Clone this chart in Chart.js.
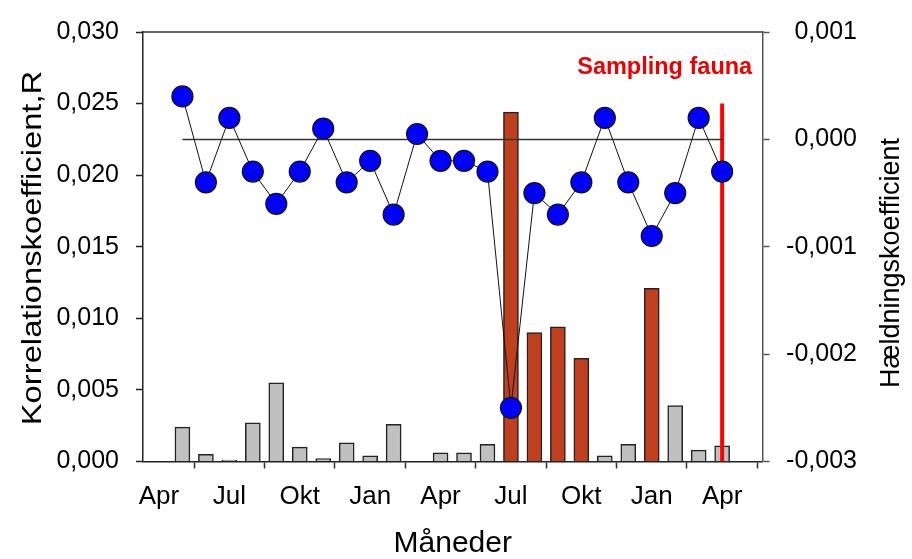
<!DOCTYPE html>
<html lang="da">
<head>
<meta charset="utf-8">
<title>Korrelations- og hældningskoefficient</title>
<script src="https://cdn.jsdelivr.net/npm/chart.js@4.4.1/dist/chart.umd.min.js"></script>
<style>
  html, body { margin: 0; padding: 0; background: #fff; }
  #wrap { position: relative; width: 912px; height: 559px; }
</style>
</head>
<body>
<div id="wrap"><canvas id="graf"></canvas></div>
<script>
// Måned 0 = første april, 24 = april to år senere
const maaneder = [1, 2, 3, 4, 5, 6, 7, 8, 9, 10, 11, 12, 13, 14, 15, 16, 17, 18, 19, 20, 21, 22, 23, 24];
const tickMaaneder = [0, 3, 6, 9, 12, 15, 18, 21, 24];
const tickNavne = ['Apr', 'Jul', 'Okt', 'Jan', 'Apr', 'Jul', 'Okt', 'Jan', 'Apr'];

// Korrelationskoefficient R – grå søjler og de fremhævede (røde) måneder
const korrelationGraa = [0.0024, 0.0005, 0.0001, 0.0027, 0.0055, 0.0010, 0.0002, 0.0013, 0.0004, 0.0026, null, 0.0006,
                         0.0006, 0.0012, null, null, null, null, 0.0004, 0.0012, null, 0.0039, 0.0008, 0.0011];
const korrelationRoed = [null, null, null, null, null, null, null, null, null, null, null, null,
                         null, null, 0.0244, 0.0090, 0.0094, 0.0072, null, null, 0.0121, null, null, null];

// Hældningskoefficient pr. måned
const haeldning = [0.0004, -0.0004, 0.0002, -0.0003, -0.0006, -0.0003, 0.0001, -0.0004, -0.0002, -0.0007, 0.00005, -0.0002,
                   -0.0002, -0.0003, -0.0025, -0.0005, -0.0007, -0.0004, 0.0002, -0.0004, -0.0009, -0.0005, 0.0002, -0.0003];

const venstreTicks = [0, 0.005, 0.010, 0.015, 0.020, 0.025, 0.030];
const hoejreTicks = [-0.003, -0.002, -0.001, 0, 0.001];

// Tidspunkt for faunaprøvetagning
const samplingMaaned = 24;
const samplingTop = 0.025;
const samplingTekst = 'Sampling fauna';

const FONT = 'Arial, "Liberation Sans", sans-serif';

const komma = v => Number(v).toFixed(3).replace('.', ',');
const punkter = (xs, ys) => xs.map((x, i) => ({ x: x, y: ys[i] }));

// Lodret tekst der læses nedefra og op; stræk > 1 trækker teksten ud i længden
function lodretTekst(ctx, tekst, x, y, str, straek) {
  ctx.save();
  ctx.fillStyle = '#000';
  ctx.font = str + 'px ' + FONT;
  ctx.textAlign = 'center';
  ctx.textBaseline = 'alphabetic';
  ctx.translate(x, y);
  ctx.rotate(-Math.PI / 2);
  ctx.scale(straek, 1);
  ctx.fillText(tekst, 0, 0);
  ctx.restore();
}

// Ramme foroven, aksetitler i siderne og tekst ved prøvetagningslinjen
const ekstraTegning = {
  id: 'ekstraTegning',
  beforeDatasetsDraw(chart) {
    const { ctx, chartArea } = chart;
    ctx.save();
    ctx.strokeStyle = '#333';
    ctx.lineWidth = 1.5;
    ctx.beginPath();
    ctx.moveTo(chartArea.left, chartArea.top);
    ctx.lineTo(chartArea.right, chartArea.top);
    ctx.stroke();
    ctx.restore();
  },
  afterDraw(chart) {
    const { ctx, scales } = chart;
    lodretTekst(ctx, 'Korrelationskoefficient,R', 41, 248, 28, 1.17);
    lodretTekst(ctx, 'Hældningskoefficient', 899, 263, 27, 1);

    ctx.save();
    ctx.fillStyle = '#ee0000';
    ctx.font = 'bold 23.5px ' + FONT;
    ctx.textAlign = 'right';
    ctx.textBaseline = 'alphabetic';
    ctx.fillText(samplingTekst, scales.x.getPixelForValue(25.28), scales.y.getPixelForValue(0.0271));
    ctx.restore();
  }
};

new Chart(document.getElementById('graf'), {
  type: 'bar',
  data: {
    datasets: [
      {
        type: 'line',
        label: 'Hældning',
        data: punkter(maaneder, haeldning),
        yAxisID: 'y1',
        borderColor: '#111',
        borderWidth: 1,
        pointRadius: 10.5,
        pointBackgroundColor: '#0000ff',
        pointBorderColor: '#111',
        pointBorderWidth: 1.2,
        tension: 0,
        clip: false,
        order: 0
      },
      {
        type: 'line',
        label: 'Nul',
        data: [{ x: maaneder[0], y: 0 }, { x: maaneder[maaneder.length - 1], y: 0 }],
        yAxisID: 'y1',
        borderColor: '#333',
        borderWidth: 1.5,
        pointRadius: 0,
        order: 1
      },
      {
        type: 'line',
        label: samplingTekst,
        data: [{ x: samplingMaaned, y: 0 }, { x: samplingMaaned, y: samplingTop }],
        yAxisID: 'y',
        borderColor: '#ff0000',
        borderWidth: 4,
        pointRadius: 0,
        order: 2
      },
      {
        label: 'R',
        data: punkter(maaneder, korrelationRoed),
        yAxisID: 'y',
        backgroundColor: '#bf3f1e',
        borderColor: '#222',
        borderWidth: 1.5,
        barThickness: 15,
        grouped: false,
        order: 3
      },
      {
        label: 'R',
        data: punkter(maaneder, korrelationGraa),
        yAxisID: 'y',
        backgroundColor: '#c0c0c0',
        borderColor: '#222',
        borderWidth: 1.5,
        barThickness: 15,
        grouped: false,
        order: 4
      }
    ]
  },
  options: {
    responsive: true,
    maintainAspectRatio: false,
    animation: false,
    events: [],
    layout: { padding: { top: 27, right: 55, left: 0, bottom: 0 } },
    plugins: { legend: { display: false }, tooltip: { enabled: false } },
    scales: {
      x: {
        type: 'linear',
        position: 'bottom',
        min: -0.68,
        max: 25.72,
        offset: false,
        afterBuildTicks: s => { s.ticks = tickMaaneder.map(v => ({ value: v })); },
        afterFit: s => { s.height = 97.5; },
        ticks: {
          callback: (v, i) => tickNavne[i],
          autoSkip: false,
          maxRotation: 0,
          font: { family: FONT, size: 26 },
          color: '#000',
          padding: 13
        },
        grid: { drawOnChartArea: false, drawTicks: true, tickLength: 7, tickColor: '#333', tickWidth: 1.5 },
        border: { color: '#222', width: 1.5 },
        title: {
          display: true,
          text: 'Måneder',
          font: { family: FONT, size: 30, lineHeight: 1 },
          color: '#000',
          padding: { top: 0, bottom: 0 }
        }
      },
      y: {
        position: 'left',
        min: 0,
        max: 0.03,
        afterBuildTicks: s => { s.ticks = venstreTicks.map(v => ({ value: v })); },
        afterFit: s => { s.width = 143; },
        ticks: { callback: v => komma(v), font: { family: FONT, size: 25 }, color: '#000', padding: 17 },
        grid: { drawOnChartArea: false, tickLength: 7, tickColor: '#222', tickWidth: 1.5 },
        border: { color: '#222', width: 1.5 }
      },
      y1: {
        position: 'right',
        min: -0.003,
        max: 0.001,
        afterBuildTicks: s => { s.ticks = hoejreTicks.map(v => ({ value: v })); },
        afterFit: s => { s.width = 94.5; },
        ticks: { callback: v => komma(v), font: { family: FONT, size: 25 }, color: '#000', crossAlign: 'far' },
        grid: { drawOnChartArea: false, tickLength: 7, tickColor: '#555', tickWidth: 1.5 },
        border: { color: '#555', width: 1.5 }
      }
    }
  },
  plugins: [ekstraTegning]
});
</script>
</body>
</html>
